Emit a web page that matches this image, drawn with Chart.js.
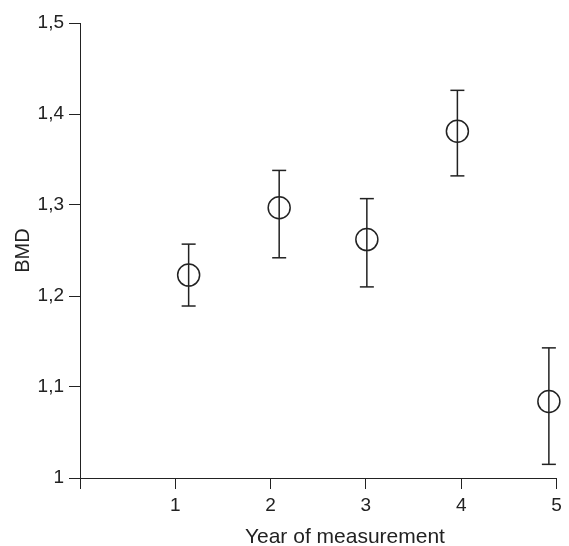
<!DOCTYPE html>
<html>
<head>
<meta charset="utf-8">
<script src="https://cdn.jsdelivr.net/npm/chart.js@4.4.1/dist/chart.umd.min.js"></script>
<style>
  html, body { margin: 0; padding: 0; background: #fff; }
  #wrap { width: 569px; height: 546px; }
</style>
</head>
<body>
<div id="wrap"><canvas id="grafico" width="569" height="546"></canvas></div>
<script>
// Datos
const years = [1.14, 2.09, 3.01, 3.96, 4.92];
const bmd = [1.223, 1.297, 1.262, 1.381, 1.084];
const lower = [1.189, 1.242, 1.210, 1.332, 1.015];
const upper = [1.257, 1.338, 1.307, 1.426, 1.143];
const xTicks = [0, 1, 2, 3, 4, 5];
const yTicks = [1, 1.1, 1.2, 1.3, 1.4, 1.5];
const xTitle = 'Year of measurement';
const yTitle = 'BMD';

const ink = '#222';
const fuente = "'Liberation Sans', Arial, Helvetica, sans-serif";

// barras de error: dos puntos por barra, null para cortar la linea
const barras = [];
years.forEach((x, i) => {
  barras.push({ x: x, y: lower[i] });
  barras.push({ x: x, y: upper[i] });
  barras.push({ x: x, y: null });
});

// titulo del eje x, algo corrido a la derecha como en el original
const tituloX = {
  id: 'tituloX',
  afterDraw(chart) {
    const { ctx, chartArea } = chart;
    ctx.save();
    ctx.fillStyle = ink;
    ctx.font = `21px ${fuente}`;
    ctx.textAlign = 'center';
    ctx.textBaseline = 'middle';
    const cx = chartArea.left + (chartArea.right - chartArea.left) * 0.556;
    ctx.fillText(xTitle, cx, chartArea.bottom + 59);
    ctx.restore();
  }
};

const chartData = {
  datasets: [
    {
      label: 'error',
      data: barras,
      showLine: true,
      spanGaps: false,
      clip: false,
      borderColor: ink,
      borderWidth: 1.5,
      pointStyle: 'line',
      pointRadius: 7,
      pointBorderWidth: 1.5,
      pointBorderColor: ink,
      pointHoverRadius: 7
    },
    {
      label: 'BMD',
      data: years.map((x, i) => ({ x: x, y: bmd[i] })),
      showLine: false,
      clip: false,
      pointStyle: 'circle',
      pointRadius: 11,
      pointBorderWidth: 1.5,
      pointBorderColor: ink,
      pointBackgroundColor: 'rgba(0,0,0,0)',
      pointHoverRadius: 11
    }
  ]
};

const config = {
  type: 'scatter',
  data: chartData,
  options: {
    responsive: false,
    animation: false,
    events: [],
    layout: { padding: { left: 0, right: 12, top: 23, bottom: 0 } },
    plugins: {
      legend: { display: false },
      tooltip: { enabled: false }
    },
    scales: {
      x: {
        type: 'linear',
        min: 0,
        max: 5,
        afterBuildTicks: (scale) => { scale.ticks = xTicks.map(v => ({ value: v })); },
        afterFit: (scale) => { scale.height = 68; },
        ticks: {
          color: ink,
          padding: 5,
          font: { family: fuente, size: 19 },
          callback: (v) => v === 0 ? '' : String(v)
        },
        grid: { drawOnChartArea: false, drawTicks: true, tickLength: 11, color: ink, lineWidth: 1 },
        border: { display: true, color: ink, width: 1 },
        title: { display: false }
      },
      y: {
        type: 'linear',
        min: 1,
        max: 1.5,
        afterBuildTicks: (scale) => { scale.ticks = yTicks.map(v => ({ value: v })); },
        afterFit: (scale) => { scale.width = 80; },
        ticks: {
          color: ink,
          padding: 5,
          font: { family: fuente, size: 19 },
          callback: (v) => String(v).replace('.', ',')
        },
        grid: { drawOnChartArea: false, drawTicks: true, tickLength: 11, color: ink, lineWidth: 1 },
        border: { display: true, color: ink, width: 1 },
        title: {
          display: true,
          text: yTitle,
          color: ink,
          font: { family: fuente, size: 20 },
          padding: { top: 11, bottom: 0 }
        }
      }
    }
  },
  plugins: [tituloX]
};

const myChart = new Chart(document.getElementById('grafico'), config);
</script>
</body>
</html>
